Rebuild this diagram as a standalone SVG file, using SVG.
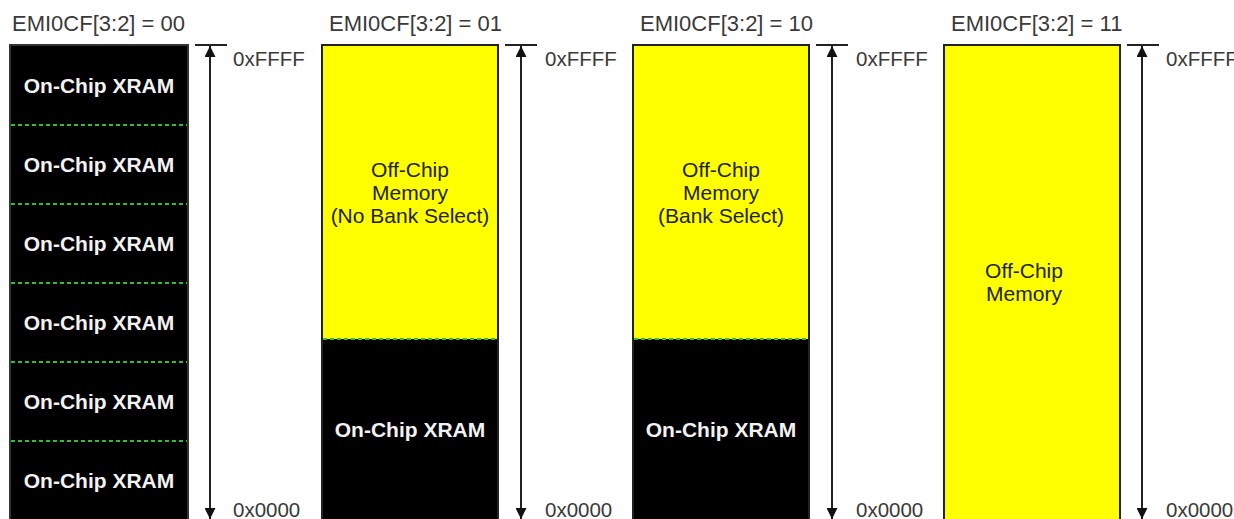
<svg xmlns="http://www.w3.org/2000/svg" width="1234" height="519" viewBox="0 0 1234 519">
<style>
.title{font-family:"Liberation Sans",Arial,sans-serif;font-size:22px;fill:#3a3a3a}
.addr{font-family:"Liberation Sans",Arial,sans-serif;font-size:20.5px;fill:#3a3a3a}
.xram{font-family:"Liberation Sans",Arial,sans-serif;font-size:21px;font-weight:bold;fill:#f2f2f2;text-anchor:middle}
.off{font-family:"Liberation Sans",Arial,sans-serif;font-size:21px;fill:#222;text-anchor:middle}
.blk{fill:#000;stroke:#333;stroke-width:2}
.yel{fill:#ffff00;stroke:#222;stroke-width:2}
.sep{stroke:#2fbf2f;stroke-width:2;stroke-dasharray:4 3}
.tick{stroke:#222;stroke-width:2}
.dim{stroke:#222;stroke-width:2;marker-start:url(#ah);marker-end:url(#ah)}
</style>
<defs>
<marker id="ah" viewBox="0 0 10 10" refX="10" refY="5" markerWidth="5.5" markerHeight="5.5" orient="auto-start-reverse" markerUnits="strokeWidth">
<path d="M0,0 L10,5 L0,10 z" fill="#111"/>
</marker>
</defs>
<rect width="1234" height="519" fill="#fff"/>

<g id="col00">
<text class="title" x="12" y="31">EMI0CF[3:2] = 00</text>
<rect class="blk" x="10" y="45" width="178" height="480"/>
<line class="sep" x1="11" y1="125" x2="187" y2="125"/>
<line class="sep" x1="11" y1="204" x2="187" y2="204"/>
<line class="sep" x1="11" y1="283" x2="187" y2="283"/>
<line class="sep" x1="11" y1="362" x2="187" y2="362"/>
<line class="sep" x1="11" y1="441" x2="187" y2="441"/>
<text class="xram" x="99" y="93">On-Chip XRAM</text>
<text class="xram" x="99" y="172">On-Chip XRAM</text>
<text class="xram" x="99" y="251">On-Chip XRAM</text>
<text class="xram" x="99" y="330">On-Chip XRAM</text>
<text class="xram" x="99" y="409">On-Chip XRAM</text>
<text class="xram" x="99" y="488">On-Chip XRAM</text>
</g>

<g id="col01">
<text class="title" x="329" y="31">EMI0CF[3:2] = 01</text>
<rect class="yel" x="322" y="45" width="176" height="480"/>
<rect x="323" y="339" width="174" height="186" fill="#000"/>
<line class="sep" x1="323" y1="339" x2="497" y2="339"/>
<text class="off" x="410" y="177">Off-Chip</text>
<text class="off" x="410" y="200">Memory</text>
<text class="off" x="410" y="223">(No Bank Select)</text>
<text class="xram" x="410" y="437">On-Chip XRAM</text>
</g>

<g id="col10">
<text class="title" x="640" y="31">EMI0CF[3:2] = 10</text>
<rect class="yel" x="633" y="45" width="176" height="480"/>
<rect x="634" y="339" width="174" height="186" fill="#000"/>
<line class="sep" x1="634" y1="339" x2="808" y2="339"/>
<text class="off" x="721" y="177">Off-Chip</text>
<text class="off" x="721" y="200">Memory</text>
<text class="off" x="721" y="223">(Bank Select)</text>
<text class="xram" x="721" y="437">On-Chip XRAM</text>
</g>

<g id="col11">
<text class="title" x="951" y="31">EMI0CF[3:2] = 11</text>
<rect class="yel" x="944" y="45" width="176" height="480"/>
<text class="off" x="1024" y="278">Off-Chip</text>
<text class="off" x="1024" y="301">Memory</text>
</g>

<g id="connectors">
<line class="tick" x1="195" y1="45" x2="227" y2="45"/>
<line class="dim" x1="210" y1="46" x2="210" y2="519"/>
<line class="tick" x1="505" y1="45" x2="537" y2="45"/>
<line class="dim" x1="521" y1="46" x2="521" y2="519"/>
<line class="tick" x1="816" y1="45" x2="848" y2="45"/>
<line class="dim" x1="832" y1="46" x2="832" y2="519"/>
<line class="tick" x1="1127" y1="45" x2="1159" y2="45"/>
<line class="dim" x1="1142" y1="46" x2="1142" y2="519"/>
</g>

<g id="labels">
<text class="addr" x="233" y="66">0xFFFF</text>
<text class="addr" x="233" y="517">0x0000</text>
<text class="addr" x="545" y="66">0xFFFF</text>
<text class="addr" x="545" y="517">0x0000</text>
<text class="addr" x="856" y="66">0xFFFF</text>
<text class="addr" x="856" y="517">0x0000</text>
<text class="addr" x="1166" y="66">0xFFFF</text>
<text class="addr" x="1166" y="517">0x0000</text>
</g>
</svg>
